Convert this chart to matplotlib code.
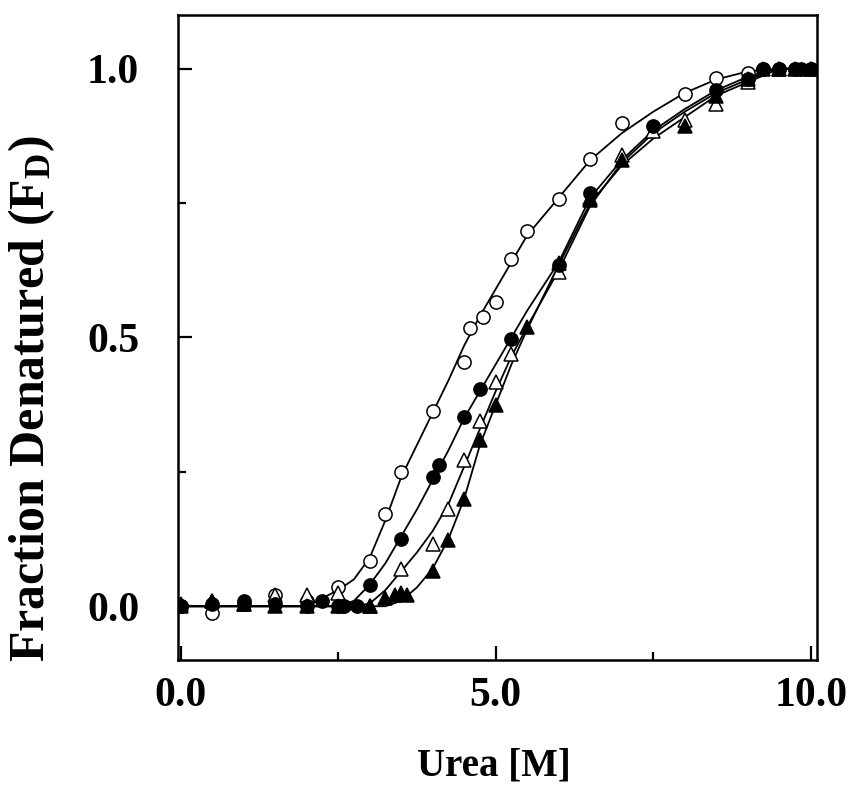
import matplotlib
matplotlib.use("Agg")
import matplotlib.pyplot as plt
from matplotlib.ticker import MultipleLocator

plt.rcParams['font.family'] = ['Liberation Serif', 'DejaVu Serif']
plt.rcParams['font.weight'] = 'bold'
plt.rcParams['mathtext.fontset'] = 'custom'
plt.rcParams['mathtext.rm'] = 'Liberation Serif:bold'
plt.rcParams['mathtext.it'] = 'Liberation Serif:bold'

# Measured points (urea in M, fraction denatured)
oc_x = [0, 0.5, 1.0, 1.5, 2.0, 2.5, 3.0, 3.25, 3.5, 4.0, 4.5, 4.6, 4.8, 5.0, 5.25, 5.5,
        6.0, 6.5, 7.0, 8.0, 8.5, 9.0, 9.25, 9.5, 9.75, 10.0]
oc_y = [0.0, -0.012, 0.005, 0.02, 0.01, 0.035, 0.085, 0.172, 0.249, 0.364, 0.455, 0.518,
        0.539, 0.566, 0.646, 0.698, 0.757, 0.832, 0.899, 0.953, 0.983, 0.993, 1.0, 1.0, 1.0, 1.0]

fc_x = [0, 0.5, 1.0, 1.5, 2.0, 2.25, 2.5, 2.6, 2.8, 3.0, 3.5, 4.0, 4.1, 4.5, 4.75, 5.25,
        6.0, 6.5, 7.5, 8.5, 9.0, 9.25, 9.5, 9.75, 9.85, 10.0]
fc_y = [0.0, 0.005, 0.01, 0.005, 0.0, 0.01, 0.0, 0.0, 0.0, 0.039, 0.126, 0.24, 0.263, 0.352,
        0.404, 0.497, 0.635, 0.768, 0.894, 0.96, 0.98, 1.0, 1.0, 1.0, 1.0, 1.0]

ot_x = [0, 0.5, 1.0, 1.5, 2.0, 2.5, 3.0, 3.5, 4.0, 4.25, 4.5, 4.75, 5.0, 5.25, 6.0,
        6.5, 7.0, 7.5, 8.0, 8.5, 9.0, 9.5, 10.0]
ot_y = [0.0, 0.01, 0.005, 0.02, 0.02, 0.025, 0.0, 0.069, 0.115, 0.18, 0.273, 0.344, 0.418,
        0.47, 0.622, 0.76, 0.84, 0.885, 0.905, 0.935, 0.975, 1.0, 1.0]

ft_x = [0, 0.5, 1.0, 1.5, 2.0, 2.5, 3.0, 3.25, 3.4, 3.5, 3.6, 4.0, 4.25, 4.5, 4.75, 5.0,
        5.5, 6.0, 6.5, 7.0, 8.0, 8.5, 9.0, 9.25, 9.5, 9.75, 10.0]
ft_y = [0.005, 0.01, 0.005, 0.0, 0.0, 0.0, 0.0, 0.015, 0.02, 0.025, 0.02, 0.066, 0.124, 0.2,
        0.31, 0.375, 0.52, 0.638, 0.755, 0.83, 0.894, 0.95, 0.98, 1.0, 1.0, 1.0, 1.0]

# Fitted curves
fit_x = [0, 2.0, 2.5, 2.75, 3.0, 3.25, 3.5, 3.75, 4.0, 4.25, 4.5, 4.75, 5.0, 5.25, 5.5,
         6.0, 6.5, 7.0, 7.5, 8.0, 8.5, 9.0, 9.5, 10.0]
fit_oc = [0, 0.0, 0.03, 0.05, 0.09, 0.16, 0.24, 0.30, 0.36, 0.42, 0.485, 0.54, 0.59, 0.64,
          0.69, 0.76, 0.83, 0.88, 0.92, 0.955, 0.98, 0.995, 1.0, 1.0]
fit_fc = [0, 0.0, 0.0, 0.01, 0.04, 0.08, 0.13, 0.18, 0.235, 0.29, 0.35, 0.40, 0.45, 0.50,
          0.55, 0.64, 0.76, 0.83, 0.885, 0.925, 0.96, 0.985, 1.0, 1.0]
fit_ot = [0, 0.0, 0.0, 0.0, 0.005, 0.03, 0.065, 0.10, 0.14, 0.19, 0.26, 0.33, 0.40, 0.465,
          0.52, 0.625, 0.745, 0.825, 0.88, 0.92, 0.955, 0.98, 1.0, 1.0]
fit_ft = [0, 0.0, 0.0, 0.0, 0.0, 0.0, 0.01, 0.035, 0.07, 0.125, 0.2, 0.30, 0.375, 0.45,
          0.515, 0.635, 0.75, 0.82, 0.87, 0.91, 0.95, 0.975, 1.0, 1.0]

fig = plt.figure(figsize=(8.48, 7.89), dpi=100)
ax = fig.add_axes([0.21, 0.1635, 0.7535, 0.8175])

# lines first, markers on top
for fy in [fit_oc, fit_fc, fit_ot, fit_ft]:
    ax.plot(fit_x, fy, color='black', linewidth=1.3, zorder=2)

ms = 9.5
ax.plot(oc_x, oc_y, 'o', ms=ms, mfc='white', mec='black', mew=1.1, zorder=3)
ax.plot(ot_x, ot_y, '^', ms=ms + 0.8, mfc='white', mec='black', mew=1.1, zorder=3)
ax.plot(fc_x, fc_y, 'o', ms=ms, mfc='black', mec='black', mew=1.1, zorder=4)
ax.plot(ft_x, ft_y, '^', ms=ms + 0.8, mfc='black', mec='black', mew=1.1, zorder=4)

ax.set_xlim(-0.04, 10.1)
ax.set_ylim(-0.1, 1.1)

ax.xaxis.set_major_locator(MultipleLocator(5))
ax.xaxis.set_minor_locator(MultipleLocator(2.5))
ax.yaxis.set_major_locator(MultipleLocator(0.5))
ax.yaxis.set_minor_locator(MultipleLocator(0.25))
ax.xaxis.set_major_formatter(plt.FormatStrFormatter('%.1f'))
ax.yaxis.set_major_formatter(plt.FormatStrFormatter('%.1f'))

ax.tick_params(which='both', direction='in', top=False, right=False, width=1.6)
ax.tick_params(which='major', length=10, labelsize=30)
ax.tick_params(which='minor', length=6)
ax.tick_params(axis='x', which='major', pad=12)
ax.tick_params(axis='y', which='major', pad=28)
for s in ax.spines.values():
    s.set_linewidth(1.8)

ax.set_xlabel('Urea [M]', fontsize=28, fontweight='bold')
ax.set_ylabel(r'Fraction Denatured (F$_{\mathrm{D}}$)', fontsize=36, fontweight='bold')
ax.xaxis.set_label_coords(0.495, -0.135)
ax.yaxis.set_label_coords(-0.19, 0.405)

fig.savefig('out.png', dpi=100)
